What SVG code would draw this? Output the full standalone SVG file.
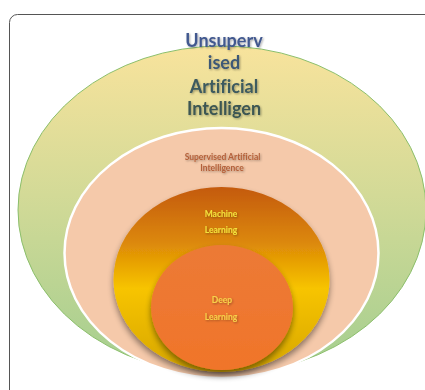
<svg xmlns="http://www.w3.org/2000/svg" width="425" height="390" viewBox="0 0 425 390">
  <style>
    text { font-variant-ligatures: none; }
    .title { font-family: "Lato", "Open Sans", "Liberation Sans", sans-serif; font-weight: bold; font-size: 18px; text-anchor: middle; }
    .small { font-family: "Lato", "Open Sans", "Liberation Sans", sans-serif; font-weight: bold; text-anchor: middle; }
  </style>
  <defs>
    <linearGradient id="gOuter" x1="0" y1="0" x2="0" y2="1">
      <stop offset="0" stop-color="#f8e39c"/>
      <stop offset="0.45" stop-color="#d3da97"/>
      <stop offset="1" stop-color="#a3ce8f"/>
    </linearGradient>
    <linearGradient id="gMachine" x1="0" y1="0" x2="0" y2="1">
      <stop offset="0" stop-color="#c45a0e"/>
      <stop offset="0.3" stop-color="#dc8808"/>
      <stop offset="0.55" stop-color="#f7c400"/>
      <stop offset="1" stop-color="#d6a600"/>
    </linearGradient>
    <linearGradient id="gDeep" x1="0" y1="0" x2="0" y2="1">
      <stop offset="0" stop-color="#ec7a36"/>
      <stop offset="1" stop-color="#f0752a"/>
    </linearGradient>
    <filter id="shadow" x="-20%" y="-20%" width="140%" height="150%">
      <feGaussianBlur in="SourceAlpha" stdDeviation="3"/>
      <feOffset dy="4"/>
      <feComponentTransfer><feFuncA type="linear" slope="0.45"/></feComponentTransfer>
      <feMerge><feMergeNode/><feMergeNode in="SourceGraphic"/></feMerge>
    </filter>
    <filter id="glow" x="-20%" y="-40%" width="140%" height="180%">
      <feGaussianBlur in="SourceAlpha" stdDeviation="1"/>
      <feOffset dx="0.5" dy="0.8"/>
      <feComponentTransfer><feFuncA type="linear" slope="0.35"/></feComponentTransfer>
      <feMerge><feMergeNode/><feMergeNode in="SourceGraphic"/></feMerge>
    </filter>
  </defs>

  <rect width="425" height="390" fill="#ffffff"/>
  <!-- card frame -->
  <rect x="9.5" y="14.5" width="440" height="400" rx="8" fill="none" stroke="#555555" stroke-width="1"/>

  <g id="unsupervised-ai">
    <ellipse cx="222" cy="210" rx="204" ry="164" fill="url(#gOuter)" stroke="#8cbf6c" stroke-width="1"/>
    <g filter="url(#glow)">
      <text class="title" x="224" y="47" fill="#42598f">Unsuperv</text>
      <text class="title" x="224" y="69" fill="#3d5876">ised</text>
      <text class="title" x="224" y="93" fill="#3e5a5e">Artificial</text>
      <text class="title" x="224" y="115" fill="#3c5752">Intelligen</text>
    </g>
  </g>

  <g id="supervised-ai">
    <ellipse cx="221.5" cy="253" rx="157" ry="125" fill="#f5c9aa" stroke="#ffffff" stroke-width="2.5"/>
    <g filter="url(#glow)" fill="#b4603a">
      <text class="small" x="222.5" y="160" font-size="8.5">Supervised Artificial</text>
      <text class="small" x="222" y="170.5" font-size="8.5">Intelligence</text>
    </g>
  </g>

  <g id="machine-learning">
    <ellipse cx="221.5" cy="279.5" rx="108" ry="92.5" fill="url(#gMachine)" filter="url(#shadow)"/>
    <g filter="url(#glow)" fill="#f2e23c">
      <text class="small" x="221" y="217" font-size="8.5">Machine</text>
      <text class="small" x="221" y="232.5" font-size="8.5">Learning</text>
    </g>
  </g>

  <g id="deep-learning">
    <ellipse cx="222" cy="307.5" rx="71" ry="62.5" fill="url(#gDeep)" filter="url(#shadow)"/>
    <g filter="url(#glow)" fill="#f6d24a">
      <text class="small" x="222" y="303" font-size="8.5">Deep</text>
      <text class="small" x="221" y="319.5" font-size="8.5">Learning</text>
    </g>
  </g>
</svg>
